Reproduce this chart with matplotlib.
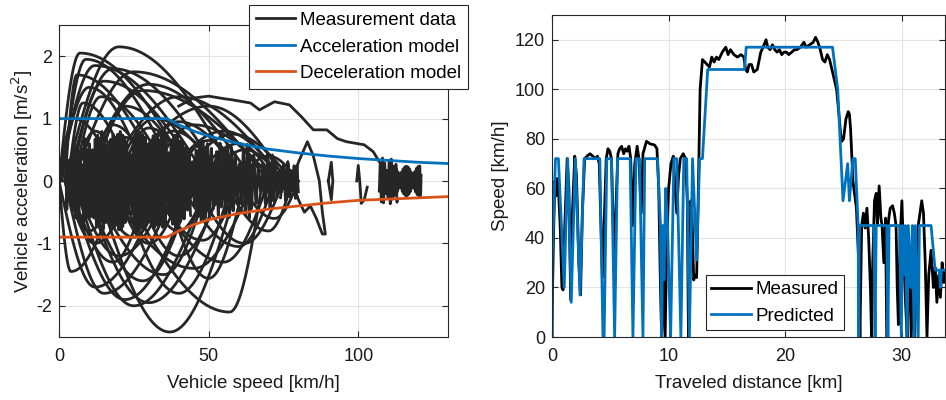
import numpy as np
import matplotlib
matplotlib.use("Agg")
import matplotlib.pyplot as plt

plt.rcParams['font.family'] = ['Liberation Sans', 'DejaVu Sans']

# ---------------- Left panel data ----------------
# model curves (speed km/h, acceleration m/s^2)
model_speed = [0, 36, 40, 45, 50, 60, 70, 80, 90, 100, 110, 120, 130]
accel_model = [1.0, 1.0, 0.9, 0.8, 0.72, 0.6, 0.51, 0.45, 0.4, 0.36, 0.33, 0.3, 0.28]
decel_model = [-0.9, -0.9, -0.8, -0.7, -0.62, -0.52, -0.45, -0.4, -0.35, -0.31, -0.29, -0.27, -0.25]

# acceleration arcs: start speed, speed at peak, end speed, peak acceleration
acc_v_start = [0, 1, 2, 0, 3, 5, 2, 4, 8, 10, 15, 20, 0, 5, 12, 3, 18, 25, 30, 35, 40, 0, 10, 20, 28, 45, 5, 15, 38, 50, 60]
acc_v_peak = [7, 9, 20, 12, 18, 25, 6, 15, 30, 28, 40, 50, 10, 14, 22, 8, 32, 40, 45, 55, 58, 5, 18, 30, 38, 60, 12, 22, 50, 62, 70]
acc_v_end = [45, 40, 60, 50, 55, 70, 35, 48, 65, 72, 75, 76, 30, 38, 45, 25, 55, 62, 72, 75, 78, 20, 32, 45, 55, 72, 22, 35, 62, 75, 80]
acc_peak = [2.05, 1.95, 2.15, 1.85, 1.8, 1.75, 1.7, 1.6, 1.55, 1.45, 1.35, 1.2, 1.5, 1.35, 1.2, 1.25, 1.0, 0.95, 0.9, 0.8, 0.75, 1.0, 0.9, 0.85, 0.8, 0.6, 0.8, 0.7, 0.65, 0.5, 0.4]

# deceleration arcs: start speed (high), speed at peak, end speed (low), peak deceleration
dec_v_start = [60, 68, 50, 45, 55, 40, 35, 20, 58, 62, 70, 72, 65, 50, 45, 30, 38, 55, 75, 78, 25, 42, 60, 35, 80, 20, 50]
dec_v_peak = [37, 57, 25, 22, 30, 15, 12, 4, 40, 50, 55, 60, 45, 35, 28, 18, 20, 40, 62, 70, 12, 30, 48, 25, 72, 10, 40]
dec_v_end = [12, 20, 5, 3, 8, 2, 0, 0, 20, 35, 30, 40, 15, 10, 8, 3, 5, 25, 45, 55, 2, 18, 30, 12, 60, 2, 28]
dec_peak = [-2.42, -2.1, -2.0, -1.9, -1.95, -1.8, -1.7, -1.45, -1.8, -1.56, -1.3, -1.05, -1.4, -1.5, -1.6, -1.3, -1.2, -1.2, -1.0, -0.8, -1.0, -1.0, -0.95, -0.9, -0.6, -0.8, -0.8]

# cruising oscillation bundles: speed range, amplitude, number of cycles
osc_v_lo = [2, 8, 14, 20, 28, 38, 48, 58, 68, 74, 107, 111]
osc_v_hi = [12, 20, 28, 36, 44, 54, 64, 72, 78, 80, 113, 121]
osc_amp = [0.6, 0.75, 0.8, 0.75, 0.75, 0.65, 0.6, 0.45, 0.32, 0.28, 0.37, 0.24]
osc_cycles = [10, 14, 16, 18, 16, 14, 12, 9, 7, 6, 8, 18]

# hand-read highway acceleration path
hw_speed = [40, 45, 50, 55, 58, 64, 67, 72, 77, 81, 85, 89.5, 93, 96, 102, 105, 108, 110]
hw_accel = [1.2, 1.33, 1.36, 1.32, 1.3, 1.25, 1.14, 1.27, 1.22, 1.03, 0.82, 0.82, 0.68, 0.63, 0.58, 0.47, 0.23, 0.0]
# isolated loops at higher speed
hl_speed = [78, 80, 83, 85, 87, 88, 89, 88, 86, 84, 82, 80, 78, 90, 91, 91.5, 91, 90, 99.5, 100, 100.5, 101, 102, 103]
hl_accel = [0.0, 0.3, 0.63, 0.4, 0.0, -0.5, -0.85, -0.85, -0.6, -0.4, -0.5, -0.3, 0.0, 0.0, 0.3, 0.0, -0.3, 0.0, 0.0, 0.25, 0.0, -0.36, -0.3, -0.1]

# ---------------- Right panel data ----------------
meas_dist = [0, 0.05, 0.15, 0.25, 0.35, 0.45, 0.55, 0.7, 0.85, 0.95, 1.1, 1.3, 1.45, 1.6, 1.75, 1.95, 2.1, 2.3, 2.45,
             2.6, 2.8, 3.0, 3.26, 3.5, 3.7, 3.9, 4.05, 4.2, 4.32, 4.5, 4.65, 4.8, 4.95, 5.1, 5.25, 5.35, 5.5, 5.65,
             5.8, 5.97, 6.15, 6.3, 6.45, 6.6, 6.75, 6.9, 7.1, 7.3, 7.45, 7.65, 7.8, 8.1, 8.4, 8.8, 9.0, 9.15, 9.3,
             9.4, 9.55, 9.7, 9.85, 10.0, 10.2, 10.4, 10.55, 10.7, 10.85, 11.0, 11.25, 11.45, 11.6, 11.7, 11.78,
             11.9, 12.0, 12.15, 12.25, 12.4, 12.55, 12.7, 12.9, 13.1, 13.3, 13.5, 13.7, 13.9, 14.1, 14.3, 14.6,
             14.9, 15.1, 15.3, 15.6, 15.9, 16.2, 16.45, 16.6, 16.75, 16.9, 17.1, 17.3, 17.6, 17.9, 18.1, 18.35,
             18.5, 18.7, 18.9, 19.1, 19.3, 19.5, 19.7, 19.9, 20.1, 20.3, 20.55, 20.8, 21.0, 21.3, 21.6, 21.8, 22.1,
             22.4, 22.6, 22.8, 23.0, 23.2, 23.4, 23.6, 23.8, 24.0, 24.2, 24.4, 24.6, 24.75, 24.85, 25.0, 25.2,
             25.4, 25.5, 25.6, 25.8, 26.1, 26.3, 26.4, 26.55, 26.7, 26.85, 27.0, 27.15, 27.3, 27.4, 27.5, 27.65,
             27.8, 27.9, 28.05, 28.2, 28.3, 28.45, 28.6, 28.7, 28.85, 29.0, 29.2, 29.35, 29.5, 29.6, 29.7, 29.85,
             30.0, 30.1, 30.3, 30.45, 30.6, 30.8, 30.95, 31.1, 31.25, 31.4, 31.55, 31.7, 31.85, 32.0, 32.15,
             32.3, 32.5, 32.7, 32.85, 33.0, 33.15, 33.3, 33.45, 33.6, 33.8]
meas_speed = [0, 20, 45, 63, 57, 64, 60, 45, 20, 19, 45, 72, 60, 15, 50, 73, 65, 30, 17,
              50, 72, 73, 74, 73, 72, 73, 70, 45, 24, 50, 72, 76, 75, 72, 45, 30, 55, 74,
              76, 77, 74, 76, 75, 77, 72, 45, 70, 77, 72, 50, 74, 79, 78, 77.5, 76, 60, 20,
              0, 25, 0, 40, 60, 70, 73, 60, 50, 65, 72, 74, 72, 55, 0, 20,
              55, 50, 23, 25, 24, 60, 100, 112, 111, 110, 109, 113, 111, 113, 112, 115,
              117, 114, 116, 114, 113, 114, 113, 108, 107, 110, 110, 107, 108, 115, 117, 120,
              117, 116, 118, 116, 115, 116, 114, 115, 115, 114, 115, 116, 116, 117, 119, 117, 118,
              119, 121, 119, 116, 112, 111, 114, 112, 108, 104, 100, 90, 82, 79, 80, 88,
              91, 90, 84, 63, 52, 30, 0, 45, 50, 44, 52, 40, 20, 0, 30, 55,
              58, 45, 61, 48, 45, 30, 48, 0, 47, 52, 53, 50, 45, 20, 5, 40,
              55, 40, 15, 0, 35, 0, 20, 0, 30, 45, 50, 55, 50, 30, 0,
              25, 35, 20, 28, 14, 25, 16, 30, 22, 27]

pred_dist = [0, 0.02, 0.3, 0.55, 1.05, 1.35, 1.65, 2.0, 2.4, 2.75, 4.1, 4.37, 4.47, 4.7, 5.1, 5.37, 5.62, 6.7,
             6.94, 7.2, 7.5, 7.8, 7.95, 9.05, 9.3, 9.4, 9.5, 9.6, 9.75, 9.9, 10.17, 10.45, 10.7, 11.05, 11.3,
             11.55, 11.78, 12.05, 12.4, 12.66, 12.9, 13.35, 16.5, 16.65, 24.05, 24.5, 24.95, 25.35, 25.5,
             25.8, 26.0, 26.25, 26.3, 26.35, 27.6, 27.7, 27.8, 28.7, 28.8, 28.9, 29.8, 29.95, 30.05, 30.2,
             30.3, 30.45, 30.55, 30.75, 30.9, 31.05, 31.15, 31.4, 31.5, 32.5, 32.85, 33.2, 33.3, 33.4, 33.8]
pred_speed = [0, 31, 72, 72, 20, 72, 14, 72, 17, 72, 72, 0, 0, 72, 72, 0, 72, 72,
              0, 72, 72, 0, 72, 72, 45, 0, 45, 23, 60, 45, 0, 72, 72, 0, 72,
              72, 0, 72, 31, 72, 72, 108, 108, 117, 117, 100, 55, 70, 55,
              72, 72, 45, 0, 45, 45, 0, 45, 45, 0, 45, 45, 0, 45, 25,
              45, 0, 45, 20, 45, 0, 45, 0, 45, 45, 27, 27, 20, 27, 27]

DARK = '#262626'
BLUE = '#0072BD'
ORANGE = '#D95319'
GRID = '#e3e3e3'


def arc(v0, vp, v1, a):
    t = np.linspace(0, 1, 40)
    va = v0 + (vp - v0) * t
    aa = a * np.sin(np.pi / 2 * t)
    vb = vp + (v1 - vp) * t
    ab = a * np.cos(np.pi / 2 * t)
    return np.concatenate([va, vb]), np.concatenate([aa, ab])


def style(ax):
    ax.grid(True, color=GRID, linewidth=0.8)
    ax.set_axisbelow(True)
    for s in ax.spines.values():
        s.set_color(DARK)
        s.set_linewidth(0.8)
    ax.tick_params(direction='in', length=4, width=0.8, colors=DARK, labelcolor='#1a1a1a',
                   labelsize=13, top=True, right=True)
    ax.tick_params(axis='x', pad=8)
    ax.tick_params(axis='y', pad=5)


fig = plt.figure(figsize=(9.46, 4.0), dpi=100)
ax1 = fig.add_axes([0.0624, 0.1575, 0.4112, 0.78])
ax2 = fig.add_axes([0.5835, 0.1575, 0.4155, 0.805])

# ----- left panel -----
lw = 2.0
first = True
for v0, vp, v1, a in zip(acc_v_start, acc_v_peak, acc_v_end, acc_peak):
    x, y = arc(v0, vp, v1, a)
    ax1.plot(x, y, color=DARK, lw=lw, label='Measurement data' if first else None)
    first = False
for v0, vp, v1, a in zip(dec_v_start, dec_v_peak, dec_v_end, dec_peak):
    x, y = arc(v0, vp, v1, a)
    ax1.plot(x, y, color=DARK, lw=lw)
for lo, hi, amp, n in zip(osc_v_lo, osc_v_hi, osc_amp, osc_cycles):
    t = np.linspace(0, 1, n * 16)
    env = 0.35 + 0.65 * np.abs(np.sin(2.3 * np.pi * t + lo))
    ax1.plot(lo + (hi - lo) * t, amp * env * np.sin(2 * np.pi * n * t + 0.4 * lo),
             color=DARK, lw=lw)
ax1.plot(hw_speed, hw_accel, color=DARK, lw=lw)
ax1.plot(hl_speed[:13], hl_accel[:13], color=DARK, lw=lw)
ax1.plot(hl_speed[13:18], hl_accel[13:18], color=DARK, lw=lw)
ax1.plot(hl_speed[18:], hl_accel[18:], color=DARK, lw=lw)

ax1.plot(model_speed, accel_model, color=BLUE, lw=2, label='Acceleration model')
ax1.plot(model_speed, decel_model, color=ORANGE, lw=2, label='Deceleration model')

ax1.set_xlim(0, 130)
ax1.set_ylim(-2.5, 2.5)
ax1.set_xticks([0, 50, 100])
ax1.set_yticks([-2, -1, 0, 1, 2])
ax1.set_yticklabels(['-2', '-1', '0', '1', '2'])
ax1.set_xlabel('Vehicle speed [km/h]', fontsize=13.5, color='#1a1a1a', labelpad=7)
ax1.set_ylabel('Vehicle acceleration [m/s$^2$]', fontsize=13.5, color='#1a1a1a', labelpad=1)
style(ax1)
leg1 = ax1.legend(loc='upper left', bbox_to_anchor=(0.489, 1.063), fontsize=13.5, frameon=True,
                  fancybox=False, edgecolor=DARK, framealpha=1, handlelength=2.1, handletextpad=0.25,
                  borderpad=0.35, labelspacing=0.5, borderaxespad=0)
leg1.get_frame().set_linewidth(0.8)

# ----- right panel -----
ax2.plot(meas_dist, meas_speed, color='black', lw=2, label='Measured')
ax2.plot(pred_dist, pred_speed, color=BLUE, lw=2, label='Predicted')
ax2.set_xlim(0, 33.7)
ax2.set_ylim(0, 130)
ax2.set_xticks([0, 10, 20, 30])
ax2.set_yticks([0, 20, 40, 60, 80, 100, 120])
ax2.set_xlabel('Traveled distance [km]', fontsize=13.5, color='#1a1a1a', labelpad=7)
ax2.set_ylabel('Speed [km/h]', fontsize=13.5, color='#1a1a1a', labelpad=4)
style(ax2)
leg2 = ax2.legend(loc='lower left', bbox_to_anchor=(0.391, 0.021), fontsize=13.5, frameon=True,
                  fancybox=False, edgecolor=DARK, framealpha=1, handlelength=2.1, handletextpad=0.25,
                  borderpad=0.3, labelspacing=0.5, borderaxespad=0)
leg2.get_frame().set_linewidth(0.8)

fig.savefig('out.png', dpi=100)
